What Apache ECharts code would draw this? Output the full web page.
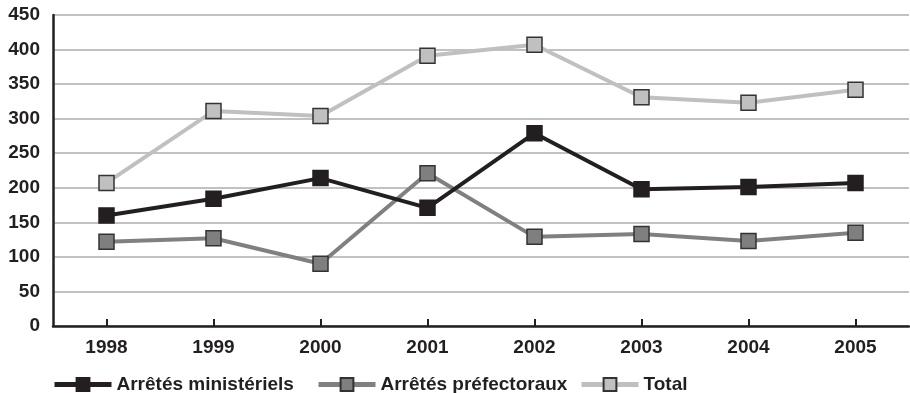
<!DOCTYPE html>
<html><head><meta charset="utf-8">
<script src="https://cdn.jsdelivr.net/npm/echarts@6/dist/echarts.min.js"></script>
<style>html,body{margin:0;padding:0;background:#fff}#c{width:910px;height:393px}</style>
</head><body><div id="c"></div>
<script>
const categories = ['1998','1999','2000','2001','2002','2003','2004','2005'];
const ministeriels = [160, 184, 214, 171, 279, 198, 201, 207];
const prefectoraux = [122, 127, 90, 221, 129, 133, 123, 135];
const total = [207, 311, 304, 391, 407, 331, 323, 342];
const yTicks = [0, 50, 100, 150, 200, 250, 300, 350, 400, 450];

const FONT = '"Liberation Sans Narrow", "Liberation Sans", Arial, sans-serif';
const chart = echarts.init(document.getElementById('c'), null, {renderer: 'canvas'});
function mk(name, data, lineColor, fill, border, z) {
  return {
    name, type: 'line', data, z,
    symbol: 'rect', symbolSize: 15,
    lineStyle: {color: lineColor, width: 4},
    itemStyle: {color: fill, borderColor: border, borderWidth: 1.5},
    emphasis: {disabled: true}, animation: false
  };
}
function lg(name, left) {
  return {
    data: [name], left, top: 370, itemWidth: 57, itemHeight: 16, itemGap: 0,
    lineStyle: {width: 5},
    textStyle: {fontFamily: FONT, fontWeight: 'bold', fontSize: 19, color: '#231f20'},
    selectedMode: false
  };
}
chart.setOption({
  animation: false,
  grid: {left: 53, right: 1, top: 15, bottom: 67, containLabel: false},
  legend: [lg('Arrêtés ministériels', 47), lg('Arrêtés préfectoraux', 311), lg('Total', 574)],
  xAxis: {
    type: 'category', data: categories, boundaryGap: true,
    axisLine: {lineStyle: {color: '#231f20', width: 2.5}},
    axisTick: {show: true, alignWithLabel: true, inside: true, length: 7, lineStyle: {color: '#231f20', width: 2}},
    axisLabel: {fontFamily: FONT, fontWeight: 'bold', fontSize: 19, color: '#231f20', margin: 12}
  },
  yAxis: {
    type: 'value', min: 0, max: 450, interval: 50,
    axisLine: {show: true, lineStyle: {color: '#231f20', width: 2.5}},
    axisTick: {show: false},
    splitLine: {lineStyle: {color: '#adadad', width: 1.5}},
    axisLabel: {fontFamily: FONT, fontWeight: 'bold', fontSize: 19, color: '#231f20', margin: 13,
      formatter: v => yTicks.includes(v) ? String(v) : ''}
  },
  series: [
    mk('Total', total, '#c0c0c0', '#c0c0c0', '#333333', 2),
    mk('Arrêtés préfectoraux', prefectoraux, '#808080', '#7f7f7f', '#333333', 3),
    mk('Arrêtés ministériels', ministeriels, '#231f20', '#231f20', '#231f20', 4)
  ]
});
</script></body></html>
